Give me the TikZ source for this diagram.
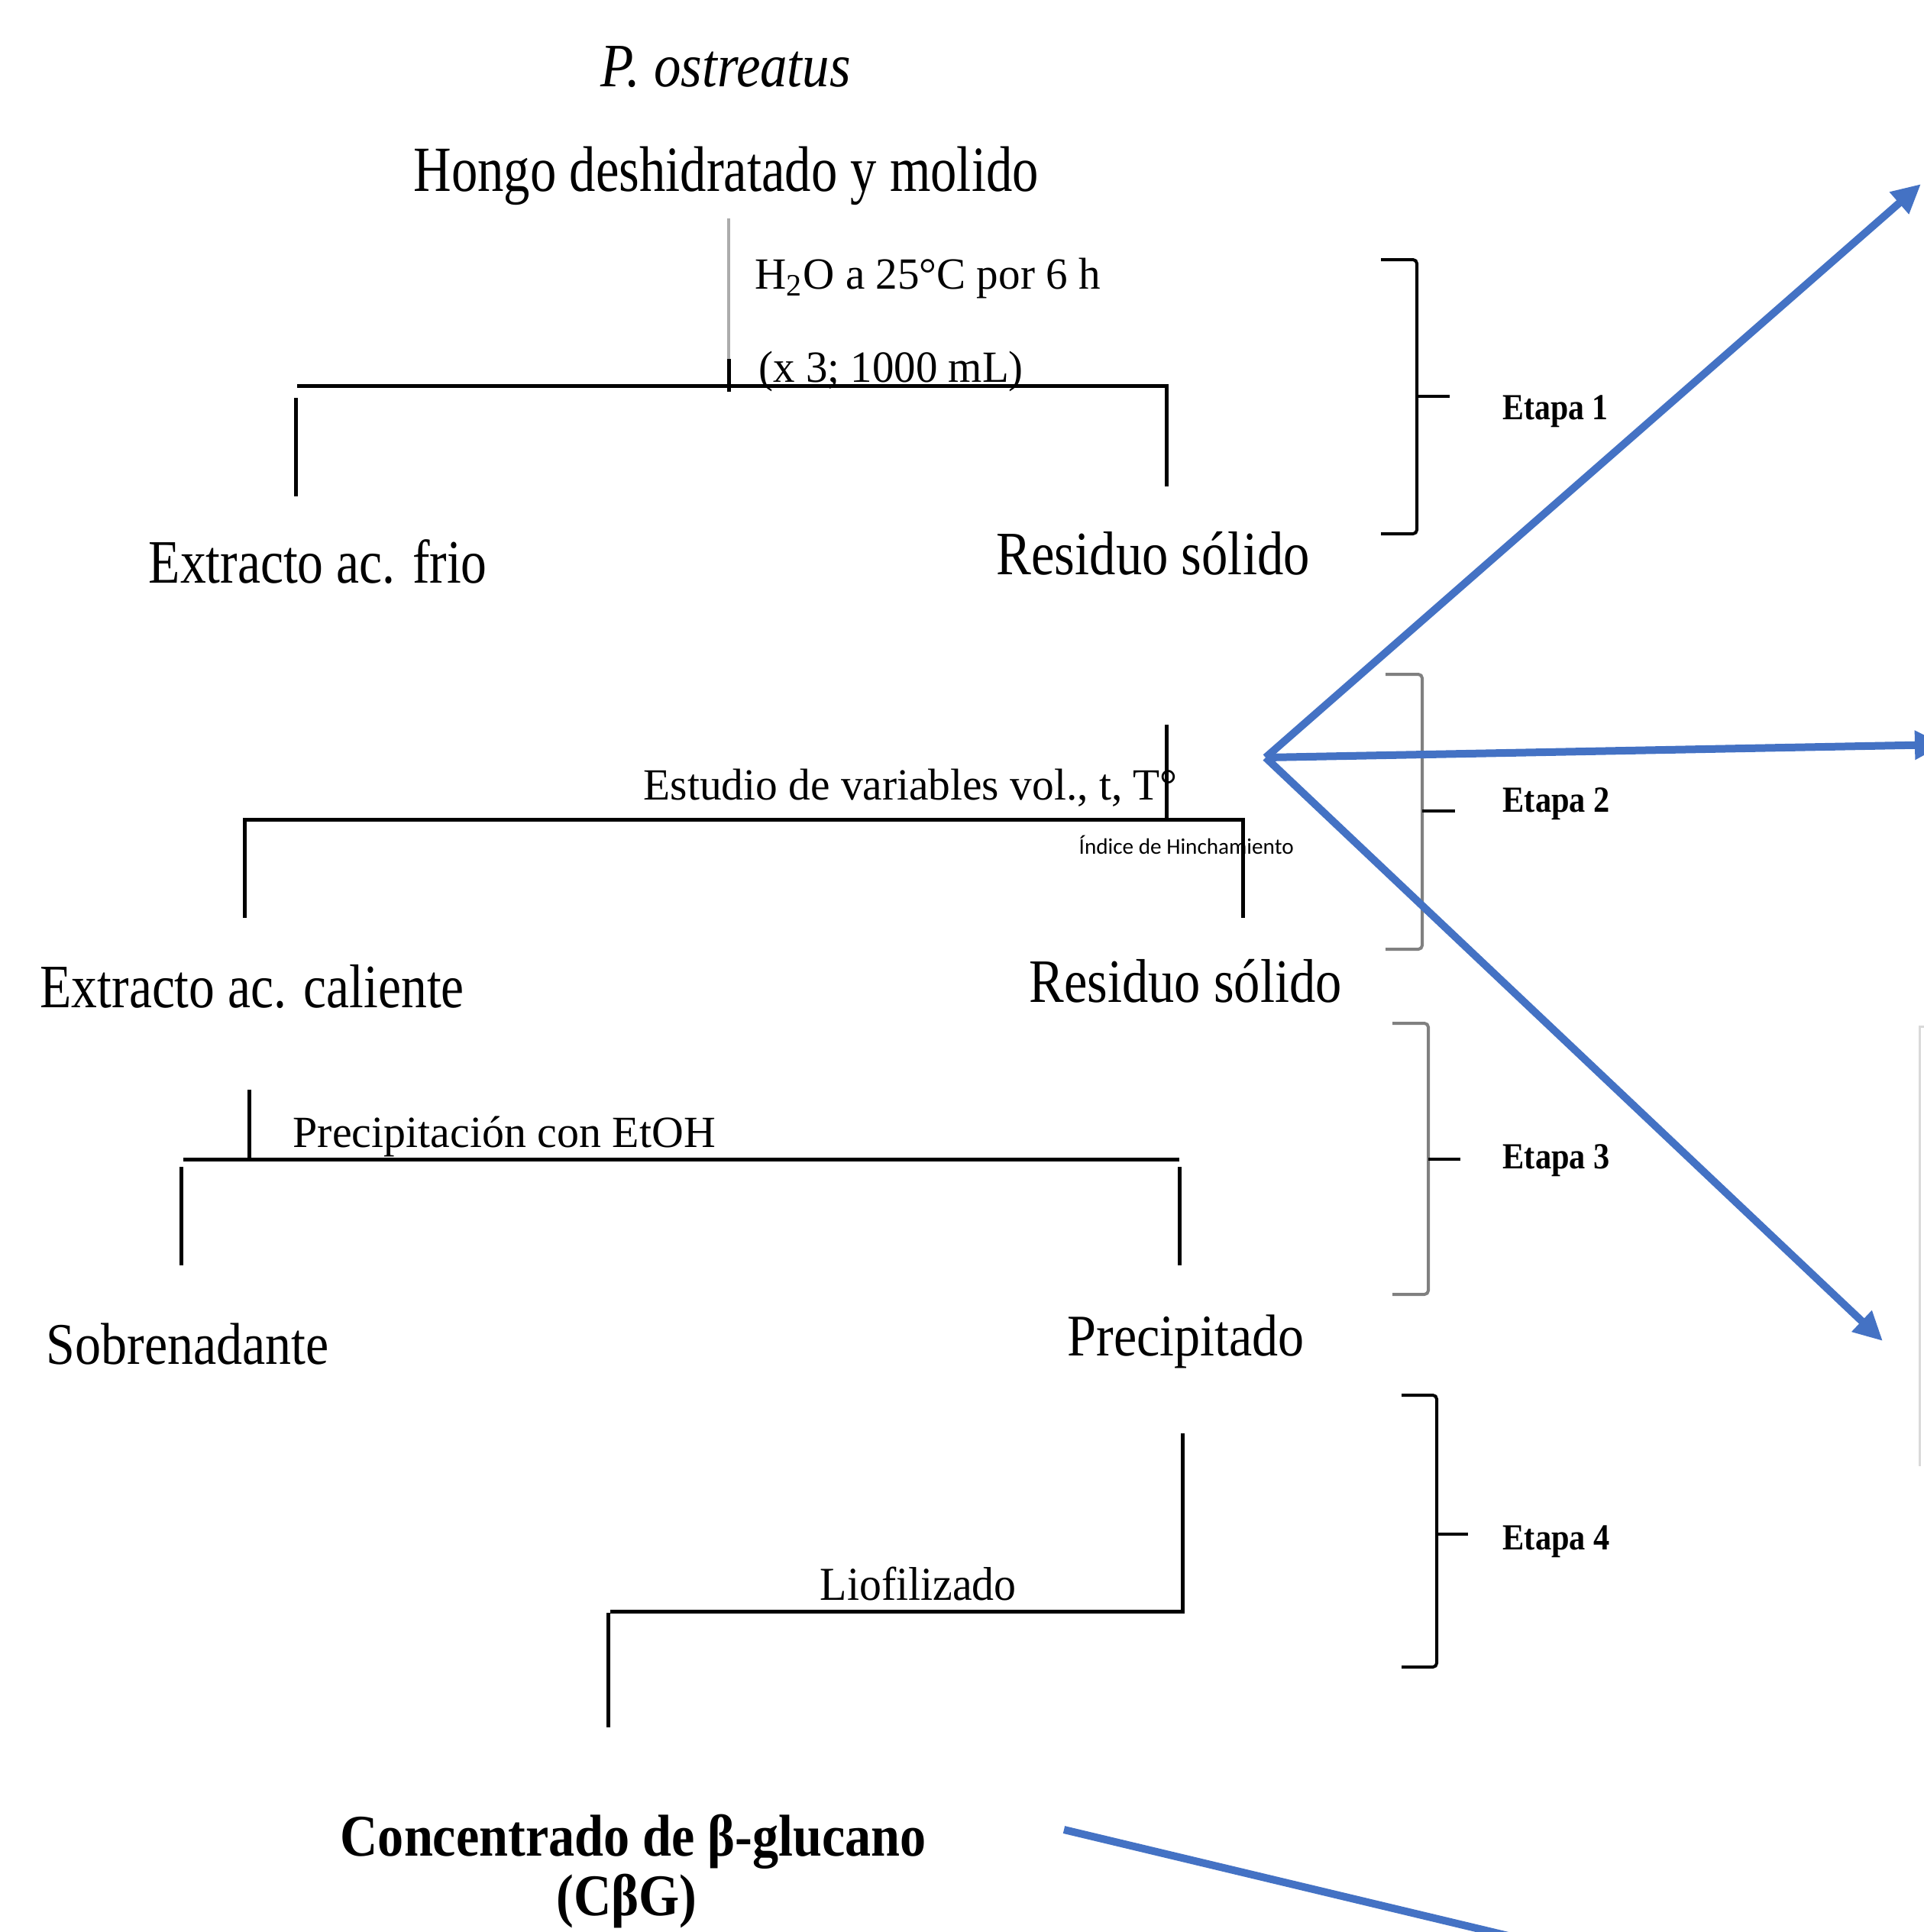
\documentclass[tikz,border=0pt]{standalone}
\usepackage{fontspec}
\setmainfont{Liberation Serif}
\newfontfamily\calibfont{Carlito}
\usepackage{graphicx}
\usetikzlibrary{arrows.meta}
\newcommand\fitw[2]{\resizebox{#1}{\height}{#2}}
\definecolor{officeblue}{HTML}{4472C4}
\begin{document}
\begin{tikzpicture}[
  txt/.style={inner sep=0pt, anchor=base west},
  bigtxt/.style={font=\fontsize{23}{26}\selectfont},
  medtxt/.style={font=\fontsize{16.6}{19}\selectfont},
  etapatxt/.style={inner sep=0pt, anchor=base west, font=\fontsize{13.7}{16}\selectfont\bfseries},
  tree/.style={line width=0.05cm, black},
  brk/.style={line width=0.04cm, rounded corners=0.05cm},
  bluearrow/.style={draw=officeblue, line width=0.1cm, -{Triangle[length=0.38cm, width=0.36cm]}},
  blueline/.style={draw=officeblue, line width=0.1cm}
]
\useasboundingbox (0,0) rectangle (25.19,-25.30);
\clip (0,0) rectangle (25.19,-25.30);

% ---------- texts ----------
\node[txt, font=\fontsize{23}{26}\selectfont\itshape] (species) at (7.86,-1.13) {\fitw{3.27cm}{P. ostreatus}};
\node[txt, font=\fontsize{24}{27}\selectfont] (hongo) at (5.41,-2.50) {\fitw{8.18cm}{Hongo deshidratado y molido}};
\node[txt, medtxt] (c1a) at (9.88,-3.78) {\fitw{4.52cm}{H\textsubscript{2}O a 25°C por 6 h}};
\node[txt, medtxt] (c1b) at (9.93,-5.00) {\fitw{3.46cm}{(x 3; 1000 mL)}};
\node[txt, bigtxt] (frio) at (1.94,-7.63) {\fitw{4.43cm}{Extracto ac. frio}};
\node[txt, bigtxt] (res1) at (13.04,-7.52) {\fitw{4.10cm}{Residuo sólido}};
\node[txt, medtxt] (c2) at (8.42,-10.47) {\fitw{6.99cm}{Estudio de variables vol., t, T°}};
\node[txt, font=\fontsize{8.3}{10}\calibfont] (indice) at (14.12,-11.18) {\fitw{2.81cm}{Índice de Hinchamiento}};
\node[txt, bigtxt] (cal) at (0.52,-13.19) {\fitw{5.55cm}{Extracto ac. caliente}};
\node[txt, bigtxt] (res2) at (13.47,-13.12) {\fitw{4.09cm}{Residuo sólido}};
\node[txt, medtxt] (c3) at (3.83,-15.02) {\fitw{5.53cm}{Precipitación con EtOH}};
\node[txt, font=\fontsize{22}{25}\selectfont] (sob) at (0.60,-17.86) {\fitw{3.70cm}{Sobrenadante}};
\node[txt, font=\fontsize{22}{25}\selectfont] (prec) at (13.97,-17.75) {\fitw{3.10cm}{Precipitado}};
\node[txt, font=\fontsize{17.6}{20}\selectfont] (c4) at (10.73,-20.95) {\fitw{2.57cm}{Liofilizado}};
\node[txt, font=\fontsize{22}{25}\selectfont\bfseries] (cbg) at (4.45,-24.30) {\fitw{7.67cm}{Concentrado de β-glucano}};
\node[txt, font=\fontsize{22}{25}\selectfont\bfseries] (cbg2) at (7.28,-25.08) {\fitw{1.84cm}{(CβG)}};

\node[etapatxt] (e1) at (19.67,-5.49) {\fitw{1.38cm}{Etapa 1}};
\node[etapatxt] (e2) at (19.67,-10.63) {\fitw{1.40cm}{Etapa 2}};
\node[etapatxt] (e3) at (19.67,-15.30) {\fitw{1.40cm}{Etapa 3}};
\node[etapatxt] (e4) at (19.67,-20.29) {\fitw{1.40cm}{Etapa 4}};

% ---------- tree 1 ----------
\coordinate (t1a) at (9.54,-2.86);
\coordinate (t1b) at (9.54,-4.70);
\coordinate (t1c) at (9.54,-5.13);
\coordinate (t1l) at (3.89,-5.05);
\coordinate (t1r) at (15.27,-5.05);
\coordinate (t1ld1) at (3.87,-5.21);
\coordinate (t1ld2) at (3.87,-6.50);
\coordinate (t1rd) at (15.27,-6.37);
\draw[line width=0.045cm, gray!65] (t1a) -- (t1b);
\draw[tree] (t1b) -- (t1c);
\draw[tree] (t1l) -- (t1r) -- (t1rd);
\draw[tree] (t1ld1) -- (t1ld2);

% ---------- tree 2 ----------
\coordinate (t2a) at (15.27,-9.49);
\coordinate (t2b) at (15.27,-10.73);
\coordinate (t2l) at (3.20,-10.73);
\coordinate (t2r) at (16.27,-10.73);
\coordinate (t2ld) at (3.20,-12.02);
\coordinate (t2rd) at (16.27,-12.02);
\draw[tree] (t2a) -- (t2b);
\draw[tree] (t2ld) -- (t2l) -- (t2r) -- (t2rd);

% ---------- tree 3 ----------
\coordinate (t3a) at (3.26,-14.27);
\coordinate (t3b) at (3.26,-15.18);
\coordinate (t3l) at (2.40,-15.18);
\coordinate (t3r) at (15.44,-15.18);
\coordinate (t3ld1) at (2.37,-15.28);
\coordinate (t3ld2) at (2.37,-16.57);
\coordinate (t3rd1) at (15.44,-15.28);
\coordinate (t3rd2) at (15.44,-16.57);
\draw[tree] (t3a) -- (t3b);
\draw[tree] (t3l) -- (t3r);
\draw[tree] (t3ld1) -- (t3ld2);
\draw[tree] (t3rd1) -- (t3rd2);

% ---------- tree 4 ----------
\coordinate (t4a) at (15.48,-18.77);
\coordinate (t4b) at (15.48,-21.10);
\coordinate (t4l) at (7.99,-21.10);
\coordinate (t4ld1) at (7.96,-21.12);
\coordinate (t4ld2) at (7.96,-22.62);
\draw[tree] (t4a) -- (t4b) -- (t4l);
\draw[tree] (t4ld1) -- (t4ld2);

% ---------- brackets ----------
\draw[brk, black] (18.08,-3.40) -- (18.55,-3.40) -- (18.55,-6.99) -- (18.08,-6.99);
\draw[line width=0.04cm, black] (18.55,-5.19) -- (18.98,-5.19);
\draw[brk, gray] (18.14,-8.83) -- (18.62,-8.83) -- (18.62,-12.43) -- (18.14,-12.43);
\draw[line width=0.04cm, black] (18.62,-10.62) -- (19.05,-10.62);
\draw[brk, gray] (18.23,-13.40) -- (18.70,-13.40) -- (18.70,-16.95) -- (18.23,-16.95);
\draw[line width=0.04cm, black] (18.70,-15.18) -- (19.12,-15.18);
\draw[brk, black] (18.35,-18.27) -- (18.81,-18.27) -- (18.81,-21.83) -- (18.35,-21.83);
\draw[line width=0.04cm, black] (18.81,-20.09) -- (19.22,-20.09);

% ---------- light box edge ----------
\draw[line width=0.03cm, gray!30] (25.19,-13.44) -- (25.13,-13.44) -- (25.13,-19.20);

% ---------- blue arrows ----------
\coordinate (orig) at (16.57,-9.92);
\coordinate (tipA) at (25.15,-2.41);
\coordinate (tipB) at (25.45,-9.75);
\coordinate (tipC) at (24.65,-17.56);
\coordinate (l4a) at (13.93,-23.96);
\coordinate (l4b) at (20.50,-25.53);
\draw[bluearrow] (orig) -- (tipA);
\draw[bluearrow] (orig) -- (tipB);
\draw[bluearrow] (orig) -- (tipC);
\draw[blueline] (l4a) -- (l4b);
\end{tikzpicture}
\end{document}
